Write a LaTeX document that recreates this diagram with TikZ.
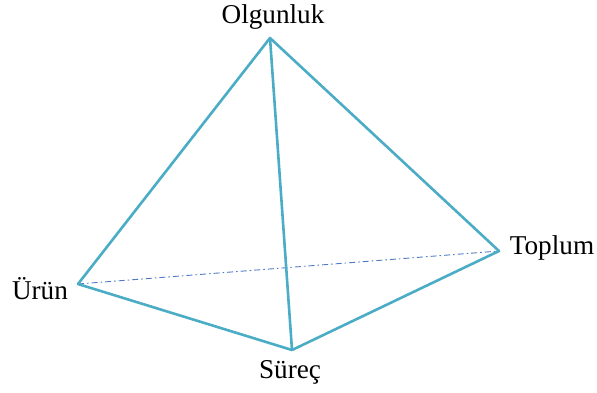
\documentclass[tikz,border=0pt]{standalone}
\usepackage{fontspec}
\setmainfont{Liberation Serif}
\usetikzlibrary{positioning}
\definecolor{edgeteal}{HTML}{4BACC6}
\definecolor{hiddenblue}{HTML}{4F7BC4}
\tikzset{
  edge/.style={edgeteal,line width=1.3pt,line join=round},
  hidden/.style={hiddenblue,line width=0.45pt,dash pattern=on 3pt off 1.5pt on 0.8pt off 1.5pt},
  lbl/.style={font=\fontsize{13.6}{16}\selectfont,inner sep=0pt}
}
\begin{document}
\begin{tikzpicture}[x=0.5pt,y=-0.5pt]
  \useasboundingbox (0,0) rectangle (597,392);
  % vertices
  \coordinate (apex) at (270,38);
  \coordinate (urun) at (78,284);
  \coordinate (toplum) at (499,251);
  \coordinate (surec) at (292,350);
  % labels
  \node[lbl] (lapex) at (273,17) {Olgunluk};
  \node[lbl] (lurun) at (40,289) {Ürün};
  \node[lbl] (ltoplum) at (552,248) {Toplum};
  \node[lbl] (lsurec) at (290,372) {Süreç};
  % hidden edge
  \draw[hidden] (urun) -- (toplum);
  % visible edges
  \draw[edge] (apex) -- (urun) -- (surec) -- (toplum) -- cycle;
  \draw[edge] (apex) -- (surec);
\end{tikzpicture}
\end{document}
